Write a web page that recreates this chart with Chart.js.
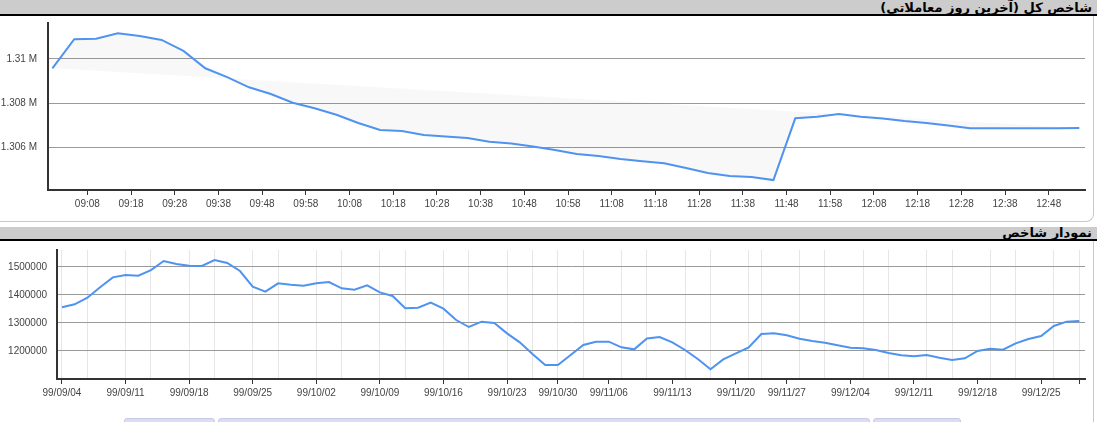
<!DOCTYPE html>
<html>
<head>
<meta charset="utf-8">
<script src="https://cdn.jsdelivr.net/npm/chart.js@4.4.1/dist/chart.umd.min.js"></script>
<style>
body{margin:0;width:1100px;height:422px;overflow:hidden;background:#fff;position:relative;}
.hdr{position:absolute;left:0;width:1097px;height:14px;box-sizing:content-box;background:#cccccc;border-bottom:2px solid #000;
  font:bold 13px "DejaVu Sans",Tahoma,sans-serif;line-height:17px;color:#000;text-align:right;padding-right:0;white-space:nowrap;overflow:visible;}
.hdr span{position:absolute;right:5px;bottom:-2px;}
.panel{position:absolute;left:-10px;width:1102px;border:1px solid #c8c8c8;border-top:none;border-radius:0 0 8px 0;background:#fff;}
.tab{position:absolute;top:418px;height:8px;background:#dcdcf4;border:1px solid #c9c9e6;border-radius:3px;}
canvas{position:absolute;left:0;}
</style>
</head>
<body>
<div class="hdr" style="top:0"><span dir="rtl">شاخص کل (آخرین روز معاملاتی)</span></div>
<div class="panel" style="top:16px;height:205px"></div>
<canvas id="topChart" width="1100" height="206" style="top:16px"></canvas>

<div class="hdr" style="top:227px;height:12px"><span dir="rtl">نمودار شاخص</span></div>
<div class="panel" style="top:241px;height:200px"></div>
<canvas id="bottomChart" width="1100" height="170" style="top:241px"></canvas>

<div class="tab" style="left:124px;width:89px"></div>
<div class="tab" style="left:218px;width:650px"></div>
<div class="tab" style="left:873px;width:86px"></div>

<script>
// last trading day, 5 minute samples
const topTimes=['09:00','09:05','09:10','09:15','09:20','09:25','09:30','09:35','09:40','09:45','09:50','09:55',
  '10:00','10:05','10:10','10:15','10:20','10:25','10:30','10:35','10:40','10:45','10:50','10:55',
  '11:00','11:05','11:10','11:15','11:20','11:25','11:30','11:35','11:40','11:45','11:50','11:55',
  '12:00','12:05','12:10','12:15','12:20','12:25','12:30','12:35','12:40','12:45','12:50','12:55'];
const topValues=[1309577,1310895,1310923,1311168,1311045,1310864,1310364,1309577,1309173,1308714,1308409,1308014,
  1307759,1307464,1307091,1306773,1306727,1306546,1306478,1306409,1306241,1306159,1306023,1305864,
  1305682,1305591,1305455,1305355,1305264,1305046,1304818,1304682,1304636,1304500,1307305,1307377,
  1307500,1307377,1307296,1307182,1307091,1306977,1306850,1306850,1306852,1306855,1306858,1306864];
const topTickLabels=['09:08','09:18','09:28','09:38','09:48','09:58','10:08','10:18','10:28','10:38','10:48','10:58',
  '11:08','11:18','11:28','11:38','11:48','11:58','12:08','12:18','12:28','12:38','12:48'];
const topYTicks=[1306000,1308000,1310000];

// daily index
const days=['99/09/04','99/09/05','99/09/08','99/09/09','99/09/10','99/09/11','99/09/12','99/09/15','99/09/16','99/09/17',
  '99/09/18','99/09/19','99/09/22','99/09/23','99/09/24','99/09/25','99/09/26','99/09/29','99/09/30','99/10/01',
  '99/10/02','99/10/03','99/10/06','99/10/07','99/10/08','99/10/09','99/10/10','99/10/13','99/10/14','99/10/15',
  '99/10/16','99/10/17','99/10/20','99/10/21','99/10/22','99/10/23','99/10/24','99/10/27','99/10/28','99/10/30',
  '99/11/01','99/11/04','99/11/05','99/11/06','99/11/07','99/11/08','99/11/11','99/11/12','99/11/13','99/11/14',
  '99/11/15','99/11/18','99/11/19','99/11/20','99/11/21','99/11/25','99/11/26','99/11/27','99/11/28','99/11/29',
  '99/12/02','99/12/03','99/12/04','99/12/05','99/12/06','99/12/09','99/12/10','99/12/11','99/12/12','99/12/13',
  '99/12/16','99/12/17','99/12/18','99/12/19','99/12/20','99/12/23','99/12/24','99/12/25','99/12/26','99/12/27',
  '99/12/30'];
const dayValues=[1356000,1366800,1390400,1427400,1463000,1471400,1469000,1489000,1521400,1510700,
  1504800,1503600,1525000,1514300,1485700,1429800,1411900,1441700,1436900,1433300,
  1441700,1446400,1423800,1419000,1434500,1409500,1396400,1353000,1354800,1372600,
  1351200,1310700,1285700,1304800,1300000,1263000,1231000,1189300,1150000,1150000,
  1185700,1221400,1233300,1233300,1213000,1206000,1245000,1250000,1231000,1203600,
  1171400,1134500,1170200,1191600,1213000,1260700,1263000,1255900,1244000,1235700,
  1229800,1220200,1211900,1209500,1203600,1192900,1184500,1181000,1185700,1176200,
  1167900,1173800,1200000,1208300,1204800,1227400,1242900,1253600,1289300,1304800,
  1307100];
const dateTickLabels=['99/09/04','99/09/11','99/09/18','99/09/25','99/10/02','99/10/09','99/10/16','99/10/23','99/10/30',
  '99/11/06','99/11/13','99/11/20','99/11/27','99/12/04','99/12/11','99/12/18','99/12/25'];
// saturdays and tuesdays get a light vertical line
const gridDays=['99/09/04','99/09/08','99/09/11','99/09/15','99/09/18','99/09/22','99/09/25','99/09/29','99/10/02','99/10/06',
  '99/10/09','99/10/13','99/10/16','99/10/20','99/10/23','99/10/27','99/10/30','99/11/04','99/11/07','99/11/11',
  '99/11/14','99/11/18','99/11/21','99/11/25','99/11/28','99/12/02','99/12/05','99/12/09','99/12/12','99/12/16',
  '99/12/19','99/12/23','99/12/26','99/12/30'];
const bottomYTicks=[1200000,1300000,1400000,1500000];

const BLUE='#4f93f0';
const FONT={family:'"Liberation Sans", Arial, sans-serif',size:10};
const TXT='#444';

const toMin=s=>{const p=s.split(':');return (+p[0])*60+(+p[1]);};
const fmtMin=v=>String(Math.floor(v/60)).padStart(2,'0')+':'+String(v%60).padStart(2,'0');

// fixed axis boxes, no extra label padding
const fixY=w=>s=>{s.width=w;s.paddingTop=0;s.paddingBottom=0;};
const fixX=h=>s=>{s.height=h;s.paddingLeft=0;s.paddingRight=0;};

const topPoints=topTimes.map((t,i)=>({x:toMin(t),y:topValues[i]}));
const chord=[topPoints[0],topPoints[topPoints.length-1]];

new Chart(document.getElementById('topChart'),{
    type:'line',
    data:{datasets:[
        {data:topPoints,borderColor:BLUE,borderWidth:2,pointRadius:0,tension:0,
         fill:{target:1},backgroundColor:'rgba(0,0,0,0.028)'},
        {data:chord,borderWidth:0,borderColor:'rgba(0,0,0,0)',pointRadius:0,fill:false}
    ]},
    options:{
        responsive:false,animation:false,events:[],
        layout:{padding:{top:7,right:15,left:0,bottom:0}},
        plugins:{legend:{display:false},tooltip:{enabled:false}},
        scales:{
            x:{type:'linear',min:539,max:776.3,
                afterBuildTicks:s=>{s.ticks=topTickLabels.map(t=>({value:toMin(t)}));},
                afterFit:fixX(32),
                border:{color:'#333',width:2},
                grid:{drawOnChartArea:false,tickLength:5,tickColor:'#333',tickWidth:1},
                ticks:{autoSkip:false,maxRotation:0,padding:3,color:TXT,font:FONT,callback:v=>fmtMin(v)}},
            y:{min:1304050,max:1311633,
                afterBuildTicks:s=>{s.ticks=topYTicks.map(v=>({value:v}));},
                afterFit:fixY(48),
                border:{color:'#333',width:2},
                grid:{color:'#9a9a9a',drawTicks:false},
                ticks:{padding:11,color:TXT,font:FONT,callback:v=>(v/1e6)+' M'}}
        }
    }
});

const isTick=i=>dateTickLabels.includes(days[i])||i===days.length-1;

new Chart(document.getElementById('bottomChart'),{
    type:'line',
    data:{datasets:[
        {data:dayValues.map((v,i)=>({x:i,y:v})),borderColor:BLUE,borderWidth:2,pointRadius:0,tension:0,fill:false}
    ]},
    options:{
        responsive:false,animation:false,events:[],
        layout:{padding:{top:9,right:15,left:0,bottom:0}},
        plugins:{legend:{display:false},tooltip:{enabled:false}},
        scales:{
            x:{type:'linear',min:-0.39,max:80.45,
                afterBuildTicks:s=>{s.ticks=days.map((d,i)=>({value:i}));},
                afterFit:fixX(32),
                border:{color:'#333',width:2},
                grid:{
                    color:c=>gridDays.includes(days[c.index])?'#e6e6e6':'rgba(0,0,0,0)',
                    tickColor:c=>isTick(c.index)?'#333':'rgba(0,0,0,0)',
                    tickLength:5,tickWidth:1},
                ticks:{autoSkip:false,maxRotation:0,padding:3,color:TXT,font:FONT,
                    callback:(v,i)=>dateTickLabels.includes(days[i])?days[i]:''}},
            y:{min:1100000,max:1560714,
                afterBuildTicks:s=>{s.ticks=bottomYTicks.map(v=>({value:v}));},
                afterFit:fixY(57),
                border:{color:'#333',width:2},
                grid:{color:'#9a9a9a',drawTicks:false},
                ticks:{padding:10,color:TXT,font:FONT,callback:v=>String(v)}}
        }
    }
});
</script>
</body>
</html>
